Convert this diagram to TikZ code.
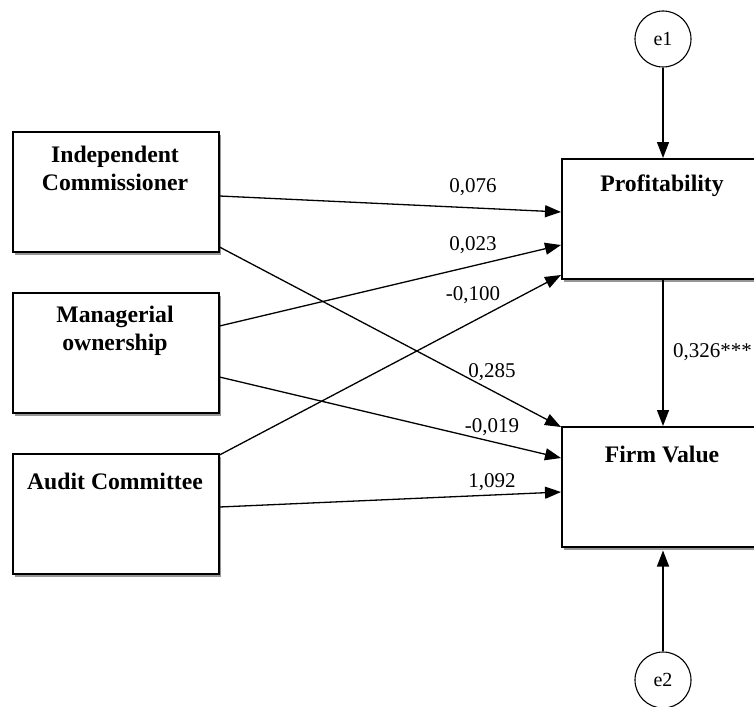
\documentclass[tikz,border=0pt]{standalone}
\usepackage{fontspec}
\setmainfont{Liberation Serif}
\usetikzlibrary{arrows.meta,shadows,calc}
\begin{document}
\begin{tikzpicture}[x=1pt,y=-1pt,
  box/.style={draw=black,line width=1.5pt,fill=white,minimum width=206pt,minimum height=120pt,inner sep=0pt,anchor=north west,
    drop shadow={shadow xshift=2.5pt,shadow yshift=-3.5pt,fill=black!55,opacity=0.75}},
  boxtext/.style={font=\fontsize{23.7}{28}\selectfont\bfseries,align=center,inner sep=0pt,anchor=north},
  err/.style={draw=black,line width=1.1pt,circle,minimum size=56pt,inner sep=0pt,font=\fontsize{20}{24}\selectfont,fill=white},
  path/.style={line width=1.3pt,-{Triangle[length=16pt,width=12pt]}},
  coef/.style={font=\fontsize{21}{25}\selectfont,inner sep=0pt}]
\useasboundingbox (0,0) rectangle (754,706);
\clip (0,0) rectangle (754,706);
% left boxes
\node[box] (ic) at (12,131) {};
\node[box] (mo) at (12,292) {};
\node[box] (ac) at (12,453) {};
% right boxes
\node[box,minimum width=204pt] (pr) at (561,158) {};
\node[box,minimum width=204pt] (fv) at (561,426) {};
% texts
\node[boxtext] (ict) at (115,146) {Independent\\Commissioner};
\node[boxtext] (mot) at (115,306) {Managerial\\ownership};
\node[boxtext] (act) at (115,473) {Audit Committee};
\node[boxtext] (prt) at (662,175) {Profitability};
\node[boxtext] (fvt) at (662,446) {Firm Value};
% error terms
\node[err] (e1) at (663,39) {e1};
\node[err] (e2) at (663,680) {e2};
% paths to Profitability
\draw[path] ([yshift=-65pt]ic.north east) -- ([yshift=-54pt]pr.north west);
\draw[path] ([yshift=-34pt]mo.north east) -- ([yshift=-87pt]pr.north west);
\draw[path] ([yshift=-2pt]ac.north east) -- ([yshift=-117pt]pr.north west);
% paths to Firm Value
\draw[path] ([yshift=-116pt]ic.north east) -- ([yshift=-1pt]fv.north west);
\draw[path] ([yshift=-85pt]mo.north east) -- ([yshift=-32pt]fv.north west);
\draw[path] ([yshift=-54pt]ac.north east) -- ([yshift=-66pt]fv.north west);
% vertical paths
\draw[path] (e1.south) -- (pr.north -| e1.south);
\draw[path] (pr.south -| e1.south) -- (fv.north -| e1.south);
\draw[path] (e2.north) -- ([yshift=-3pt]fv.south -| e2.north);
% coefficients
\node[coef] (c1) at (473,187) {0,076};
\node[coef] (c2) at (473,245) {0,023};
\node[coef] (c3) at (473,295) {-0,100};
\node[coef] (c4) at (492,372) {0,285};
\node[coef] (c5) at (492,427) {-0,019};
\node[coef] (c6) at (492,482) {1,092};
\node[coef,anchor=west] (c7) at (673,352) {0,326***};
\end{tikzpicture}
\end{document}
